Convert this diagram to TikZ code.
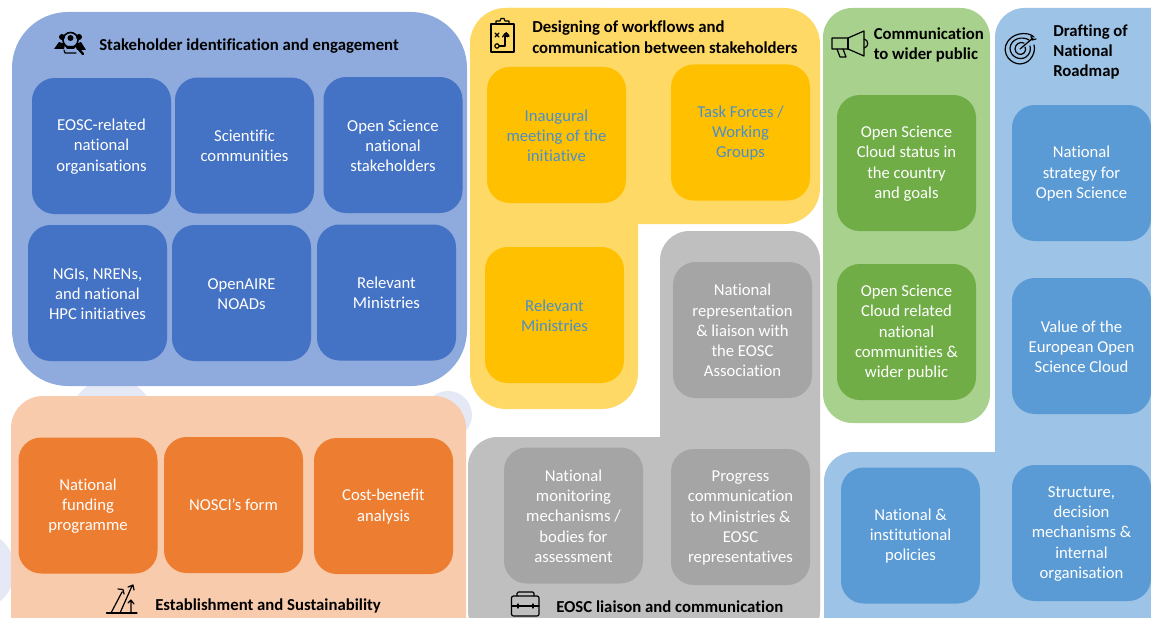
\documentclass[tikz,border=0pt]{standalone}
\usepackage{fontspec}
\setmainfont{Carlito}[Ligatures=NoCommon]
\definecolor{bluebg}{HTML}{8FAADC}\definecolor{bluebox}{HTML}{4472C4}
\definecolor{orbg}{HTML}{F8CBAD}\definecolor{orbox}{HTML}{ED7D31}
\definecolor{yebg}{HTML}{FFD966}\definecolor{yebox}{HTML}{FFC000}\definecolor{yetext}{HTML}{4A8FCB}
\definecolor{grbg}{HTML}{BFBFBF}\definecolor{grbox}{HTML}{A5A5A5}
\definecolor{gnbg}{HTML}{A9D18E}\definecolor{gnbox}{HTML}{70AD47}
\definecolor{ltbg}{HTML}{9DC3E6}\definecolor{ltbox}{HTML}{5B9BD5}
\definecolor{ghost}{HTML}{E4E9F5}
\tikzset{x=0.75pt,y=-0.75pt,
  panel/.style={rounded corners=#1},
  cell/.style={rounded corners=17pt,minimum width=104.25pt,minimum height=102pt,inner sep=0pt,align=center,text=white,
    font=\fontsize{12.5}{15.15}\selectfont},
  head/.style={anchor=west,align=left,inner sep=0pt,text=black,font=\fontsize{12.55}{15.3}\selectfont\bfseries},
  icon/.style={draw=black,line width=0.9pt,line cap=round,line join=round}}
\newcommand{\lift}{\rule{0pt}{9.6pt}}
\begin{document}
\begin{tikzpicture}
\useasboundingbox (0,0) rectangle (1151,617);
\clip (0,0) rectangle (1151,617);
% faint blobs behind the panels
\fill[ghost] (112,420) circle[radius=42];
\fill[ghost] (448,415) circle[radius=24];
\fill[ghost] (-25,570) circle[radius=40];
% panels
\fill[bluebg,panel=42pt] (12,12) rectangle (467,386);
\fill[orbg,panel=24pt] (11,396) rectangle (466,650);
\fill[yebg,panel=27pt] (470,8) rectangle (820,224);
\fill[yebg,panel=27pt] (470,8) rectangle (638,409);
\fill[grbg,panel=22pt] (660,231) rectangle (820,640);
\fill[grbg,panel=22pt] (468,437) rectangle (820,640);
\fill[gnbg,panel=22pt] (823,8) rectangle (990,423);
\fill[ltbg,panel=22pt] (995,8) rectangle (1200,660);
\fill[ltbg,panel=22pt] (824,452) rectangle (1200,660);
% blue cells
\node[cell,fill=bluebox] (a1) at (101.5,146) {\lift EOSC-related\\national\\organisations};
\node[cell,fill=bluebox] (a2) at (244.5,145.5) {\lift Scientific\\communities};
\node[cell,fill=bluebox] (a3) at (393,145) {\lift Open Science\\national\\stakeholders};
\node[cell,fill=bluebox] (a4) at (97.5,293) {\lift NGIs, NRENs,\\and national\\HPC initiatives};
\node[cell,fill=bluebox] (a5) at (241.5,293) {\lift OpenAIRE\\NOADs};
\node[cell,fill=bluebox] (a6) at (386.5,292.5) {\lift Relevant\\Ministries};
% orange cells
\node[cell,fill=orbox] (b1) at (88,505.5) {\lift National\\funding\\programme};
\node[cell,fill=orbox] (b2) at (233.5,505) {NOSCI’s form};
\node[cell,fill=orbox] (b3) at (383.5,506) {\lift Cost-benefit\\analysis};
% yellow cells
\node[cell,fill=yebox,text=yetext] (c1) at (556.5,135) {\lift Inaugural\\meeting of the\\initiative};
\node[cell,fill=yebox,text=yetext] (c2) at (740.5,132.5) {\lift Task Forces /\\Working\\Groups};
\node[cell,fill=yebox,text=yetext] (c3) at (554.5,315) {\lift Relevant\\Ministries};
% grey cells
\node[cell,fill=grbox] (d1) at (742.5,330) {\lift National\\representation\\\&{} liaison with\\the EOSC\\Association};
\node[cell,fill=grbox] (d2) at (573.5,515.5) {\lift National\\monitoring\\mechanisms /\\bodies for\\assessment};
\node[cell,fill=grbox] (d3) at (740.5,517) {\lift Progress\\communication\\to Ministries \&\\EOSC\\representatives};
% green cells
\node[cell,fill=gnbox] (e1) at (906.5,163) {\lift Open Science\\Cloud status in\\the country\\and goals};
\node[cell,fill=gnbox] (e2) at (906.5,332) {\lift Open Science\\Cloud related\\national\\communities \&\\wider public};
% light blue cells
\node[cell,fill=ltbox] (f1) at (1081.5,173) {\lift National\\strategy for\\Open Science};
\node[cell,fill=ltbox] (f2) at (1081.5,346) {\lift Value of the\\European Open\\Science Cloud};
\node[cell,fill=ltbox] (f3) at (910.5,535.5) {\lift National \&\\institutional\\policies};
\node[cell,fill=ltbox] (f4) at (1081.5,533) {\lift Structure,\\decision\\mechanisms \&\\internal\\organisation};
% headings
\node[head] (h1) at (99,46) {Stakeholder identification and engagement};
\node[head] (h2) at (532,37) {Designing of workflows and\\communication between stakeholders};
\node[head] (h3) at (873.5,45) {Communication\\to wider public};
\node[head] (h4) at (1053,52) {Drafting of\\National\\Roadmap};
\node[head] (h5) at (155,606) {Establishment and Sustainability};
\node[head] (h6) at (556,607) {EOSC liaison and communication};
% icon: people and magnifier
\fill[black] (62,37) circle[radius=3];\fill[black] (79,37) circle[radius=3];
\fill[black] (54,49) -- (59,42) -- (65,44) -- (64,49) -- cycle;
\fill[black] (86,50) -- (81,42) -- (76,44) -- (77,50) -- cycle;
\draw[icon,line width=1.2pt] (70.5,40) circle[radius=7.5];
\fill[black] (70.5,38) circle[radius=3];
\fill[black] (65,46) -- (76,46) -- (74,49) -- (67,49) -- cycle;
\draw[icon,line width=1.8pt] (76,46) -- (83,54);
\draw[icon] (64,50) -- (65,53) -- (76,53);
% icon: clipboard
\draw[icon] (491,24) rectangle (514,52);
\draw[icon] (496,24) -- (496,21) -- (500,21) -- (501,18.5) -- (504,18.5) -- (505,21) -- (509,21) -- (509,24) -- cycle;
\draw[icon] (495,33) -- (499,37) (499,33) -- (495,37);
\draw[icon] (497,46) circle[radius=2.2];
\draw[icon] (499.5,46) -- (505,46) -- (505,36) -- (509,36);
\draw[icon] (506,32.5) -- (508.5,35) (502.5,37) -- (505,33.5) -- (507.5,37);
% icon: megaphone
\draw[icon] (832,38) -- (848,38) -- (864,31) -- (864,56) -- (848,49) -- (832,49) -- cycle;
\draw[icon] (848,38) -- (848,49);
\draw[icon] (864,39) .. controls (869,40) and (869,47) .. (864,48);
\draw[icon] (837,49) -- (840,57) -- (846,57) -- (843,49);
% icon: target
\draw[icon] (1034,37) .. controls (1028,31) and (1010,32) .. (1005.5,46) .. controls (1003,58) and (1015,66) .. (1023,63.5) .. controls (1031,62) and (1036,52) .. (1034,45);
\draw[icon] (1029,40) .. controls (1023,36) and (1011,38) .. (1010,48) .. controls (1010,57) and (1020,61) .. (1026,57) .. controls (1030,54) and (1031,50) .. (1030,46);
\draw[icon] (1024,43) .. controls (1019,41) and (1015,45) .. (1015,49) .. controls (1015,54) and (1021,56) .. (1024,53) .. controls (1026,51) and (1026,49) .. (1025,47);
\draw[icon] (1020,49) -- (1033,38) (1031,36) -- (1032,40) -- (1036,39);
% icon: rising arrows
\draw[icon] (106.5,613) -- (137,613);
\draw[icon] (111,613) -- (122,592) (118,589) -- (123,589.5) -- (124,594);
\draw[icon] (120,613) -- (132,586) (128,587) -- (133,585) -- (134,590);
\draw[icon] (131,613) -- (131,601) (128,603) -- (131,600) -- (134,604);
% icon: briefcase
\draw[icon,rounded corners=1.5pt] (511.5,596) rectangle (539,616);
\draw[icon,rounded corners=1pt] (517,596) -- (517,592) -- (534,592) -- (534,596);
\draw[icon] (511.5,606) -- (539,606) (518,604) -- (518,608) (533,604) -- (533,608);
\end{tikzpicture}
\end{document}
